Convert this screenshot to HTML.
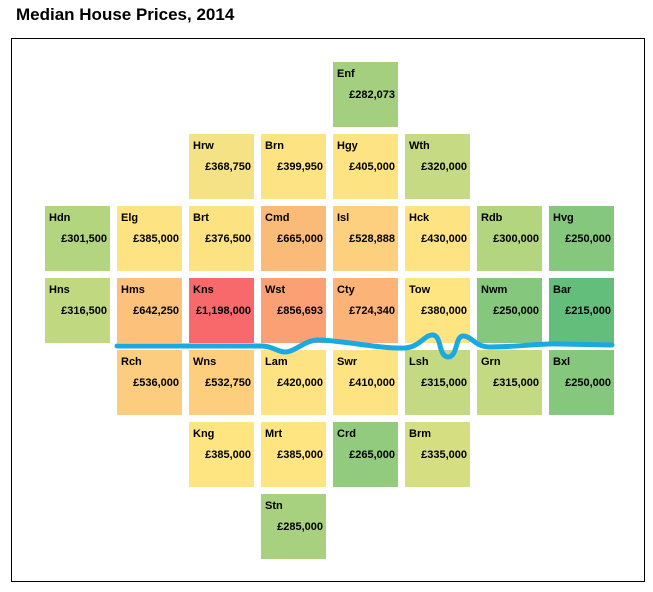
<!DOCTYPE html>
<html><head><style>
body{margin:0;width:653px;height:592px;background:#fff;position:relative;overflow:hidden;font-family:"Liberation Sans",Arial,sans-serif}
.t{position:absolute;left:16px;top:5px;font-size:17px;font-weight:bold;color:#000}
.box{position:absolute;left:11px;top:38px;width:632px;height:542px;border:1px solid #000}
.c{position:absolute;width:65px;height:65px}
.c b{position:absolute;left:4px;top:6px;font-size:11px}
.c i{position:absolute;right:3px;top:27px;font-size:11px;font-style:normal;font-weight:bold}
svg{position:absolute;left:0;top:0}
</style></head><body>
<div class="t">Median House Prices, 2014</div>
<div class="box"></div>
<div class="c" style="left:333px;top:62px;background:#a4cf7e"><b>Enf</b><i>£282,073</i></div>
<div class="c" style="left:189px;top:134px;background:#f4e285"><b>Hrw</b><i>£368,750</i></div>
<div class="c" style="left:261px;top:134px;background:#fee382"><b>Brn</b><i>£399,950</i></div>
<div class="c" style="left:333px;top:134px;background:#fee382"><b>Hgy</b><i>£405,000</i></div>
<div class="c" style="left:405px;top:134px;background:#c5da82"><b>Wth</b><i>£320,000</i></div>
<div class="c" style="left:45px;top:206px;background:#b3d57f"><b>Hdn</b><i>£301,500</i></div>
<div class="c" style="left:117px;top:206px;background:#fee382"><b>Elg</b><i>£385,000</i></div>
<div class="c" style="left:189px;top:206px;background:#fde282"><b>Brt</b><i>£376,500</i></div>
<div class="c" style="left:261px;top:206px;background:#fbbb78"><b>Cmd</b><i>£665,000</i></div>
<div class="c" style="left:333px;top:206px;background:#fdd07f"><b>Isl</b><i>£528,888</i></div>
<div class="c" style="left:405px;top:206px;background:#fee382"><b>Hck</b><i>£430,000</i></div>
<div class="c" style="left:477px;top:206px;background:#b3d57f"><b>Rdb</b><i>£300,000</i></div>
<div class="c" style="left:549px;top:206px;background:#85c77c"><b>Hvg</b><i>£250,000</i></div>
<div class="c" style="left:45px;top:278px;background:#c0d981"><b>Hns</b><i>£316,500</i></div>
<div class="c" style="left:117px;top:278px;background:#fcc17a"><b>Hms</b><i>£642,250</i></div>
<div class="c" style="left:189px;top:278px;background:#f8696b"><b>Kns</b><i>£1,198,000</i></div>
<div class="c" style="left:261px;top:278px;background:#faa074"><b>Wst</b><i>£856,693</i></div>
<div class="c" style="left:333px;top:278px;background:#fbb378"><b>Cty</b><i>£724,340</i></div>
<div class="c" style="left:405px;top:278px;background:#fee582"><b>Tow</b><i>£380,000</i></div>
<div class="c" style="left:477px;top:278px;background:#85c77c"><b>Nwm</b><i>£250,000</i></div>
<div class="c" style="left:549px;top:278px;background:#63be7b"><b>Bar</b><i>£215,000</i></div>
<div class="c" style="left:117px;top:350px;background:#fccd7e"><b>Rch</b><i>£536,000</i></div>
<div class="c" style="left:189px;top:350px;background:#fcce7e"><b>Wns</b><i>£532,750</i></div>
<div class="c" style="left:261px;top:350px;background:#fee382"><b>Lam</b><i>£420,000</i></div>
<div class="c" style="left:333px;top:350px;background:#fee382"><b>Swr</b><i>£410,000</i></div>
<div class="c" style="left:405px;top:350px;background:#c3da82"><b>Lsh</b><i>£315,000</i></div>
<div class="c" style="left:477px;top:350px;background:#c3da82"><b>Grn</b><i>£315,000</i></div>
<div class="c" style="left:549px;top:350px;background:#85c77c"><b>Bxl</b><i>£250,000</i></div>
<div class="c" style="left:189px;top:422px;background:#fee582"><b>Kng</b><i>£385,000</i></div>
<div class="c" style="left:261px;top:422px;background:#fee582"><b>Mrt</b><i>£385,000</i></div>
<div class="c" style="left:333px;top:422px;background:#92cb7d"><b>Crd</b><i>£265,000</i></div>
<div class="c" style="left:405px;top:422px;background:#d5df82"><b>Brm</b><i>£335,000</i></div>
<div class="c" style="left:261px;top:494px;background:#a8d17f"><b>Stn</b><i>£285,000</i></div>
<svg width="653" height="592"><path d="M117,346 L262,346 C272,346 278,352 285,352 C295,352 305,340 318,340 C340,340 380,349 405,348 C420,347 425,334 433,335 C442,336 438,356 448,357 C458,357 455,336 463,336 C472,336 475,347 490,347 C520,347 540,343 560,344 L612,345" fill="none" stroke="#1ba9e1" stroke-width="5" stroke-linecap="round"/></svg>
</body></html>
